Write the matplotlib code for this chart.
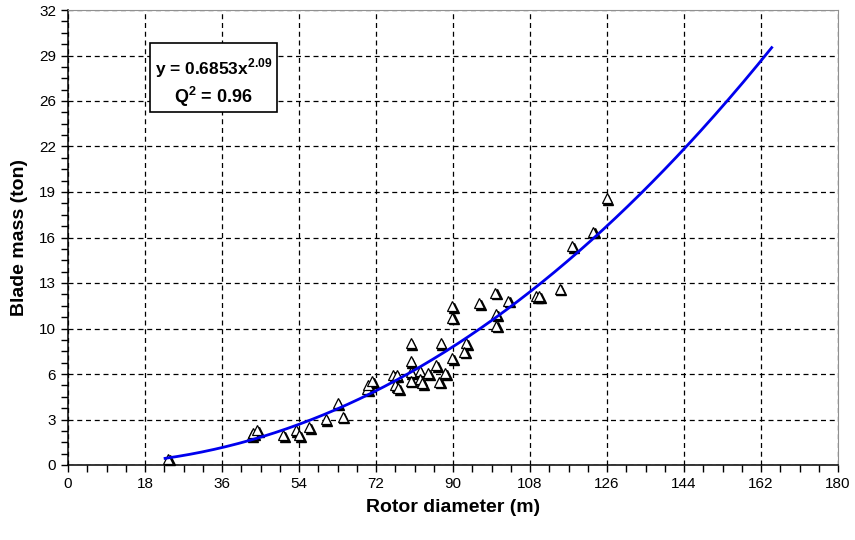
import numpy as np
import matplotlib
matplotlib.use("Agg")
import matplotlib.pyplot as plt
import matplotlib.transforms as mtransforms
from matplotlib.patches import Rectangle
from matplotlib.ticker import FixedLocator, MultipleLocator

plt.rcParams['font.family'] = ['Liberation Sans', 'DejaVu Sans']
plt.rcParams['mathtext.fontset'] = 'custom'
plt.rcParams['mathtext.bf'] = 'Liberation Sans:bold'
plt.rcParams['mathtext.rm'] = 'Liberation Sans'

# rotor diameter (m) and blade mass (ton)
diameter = [23.4, 42.9, 43.3, 44.2, 50.2, 53.2, 54.1, 56.3, 60.2, 63.0, 64.2,
            70.0, 70.2, 71.0, 76.0, 76.8, 76.4, 77.1, 80.1, 80.1, 80.1, 80.1,
            82.2, 82.3, 82.7, 84.2, 86.1, 86.8, 88.1, 87.1, 89.8, 89.8, 89.8,
            93.0, 92.6, 96.1, 99.9, 100.0, 100.0, 102.9, 109.4, 110.2, 114.9,
            117.9, 122.8, 125.9]
mass = [0.45, 2.11, 2.27, 2.46, 2.11, 2.46, 2.11, 2.69, 3.24, 4.34, 3.40,
        5.35, 5.63, 5.91, 6.33, 6.33, 5.63, 5.42, 8.58, 7.31, 6.54, 5.93,
        6.58, 6.05, 5.77, 6.45, 7.00, 5.87, 6.44, 8.58, 7.53, 11.15, 10.37,
        8.60, 7.97, 11.39, 12.13, 10.60, 9.81, 11.56, 11.89, 11.89, 12.41,
        15.40, 16.41, 18.76]

# power-law fit (mass in kg)
coef = 0.6853
expo = 2.09
fit_x = np.linspace(22.7, 164.5, 300)
fit_y = coef * fit_x ** expo / 1000.0

y_ticks = np.arange(0, 32.01, 3.2)
y_labels = ['0', '3', '6', '10', '13', '16', '19', '22', '26', '29', '32']
x_ticks = np.arange(0, 181, 18)

fig = plt.figure(figsize=(8.55, 5.4), dpi=100)
ax = fig.add_axes([68 / 855, 75 / 540, 770 / 855, 455 / 540])

# shadowed open triangles
shadow = mtransforms.offset_copy(ax.transData, fig=fig, x=1.8, y=-1.8, units='dots')
ax.plot(diameter, mass, linestyle='none', marker='^', markersize=6.5,
        color='black', transform=shadow, zorder=3, clip_on=False)
ax.plot(diameter, mass, linestyle='none', marker='^', markersize=6.5,
        markerfacecolor='white', markeredgecolor='black', markeredgewidth=0.9,
        zorder=4, clip_on=False)

ax.plot(fit_x, fit_y, color='#0000ee', linewidth=2, zorder=5)

ax.set_xlim(0, 180)
ax.set_ylim(0, 32)
ax.xaxis.set_major_locator(FixedLocator(x_ticks))
ax.xaxis.set_minor_locator(MultipleLocator(4.5))
ax.yaxis.set_major_locator(FixedLocator(y_ticks))
ax.set_yticklabels(y_labels)
ax.yaxis.set_minor_locator(MultipleLocator(0.8))
ax.tick_params(which='both', direction='out', length=5, width=1, labelsize=11)
ax.grid(True, which='major', color='black', linestyle=(0, (4, 3)), linewidth=0.9)
ax.set_axisbelow(True)

for s in ['top', 'right']:
    ax.spines[s].set_color('#909090')
for s in ['left', 'bottom']:
    ax.spines[s].set_linewidth(1.1)

ax.set_xlabel('Rotor diameter (m)', fontsize=14, fontweight='bold', labelpad=6)
ax.set_ylabel('Blade mass (ton)', fontsize=14, fontweight='bold', labelpad=8)

# equation box
ax.add_patch(Rectangle((0.106, 0.776), 0.165, 0.151, transform=ax.transAxes,
                       facecolor='white', edgecolor='black', linewidth=1.2, zorder=6))
ax.text(0.189, 0.872, r'y = 0.6853x$^{\mathbf{2.09}}$', transform=ax.transAxes,
        ha='center', va='center', fontsize=12.5, fontweight='bold', zorder=7)
ax.text(0.189, 0.808, r'Q$^{\mathbf{2}}$ = 0.96', transform=ax.transAxes,
        ha='center', va='center', fontsize=13, fontweight='bold', zorder=7)

fig.savefig('out.png', dpi=100)
